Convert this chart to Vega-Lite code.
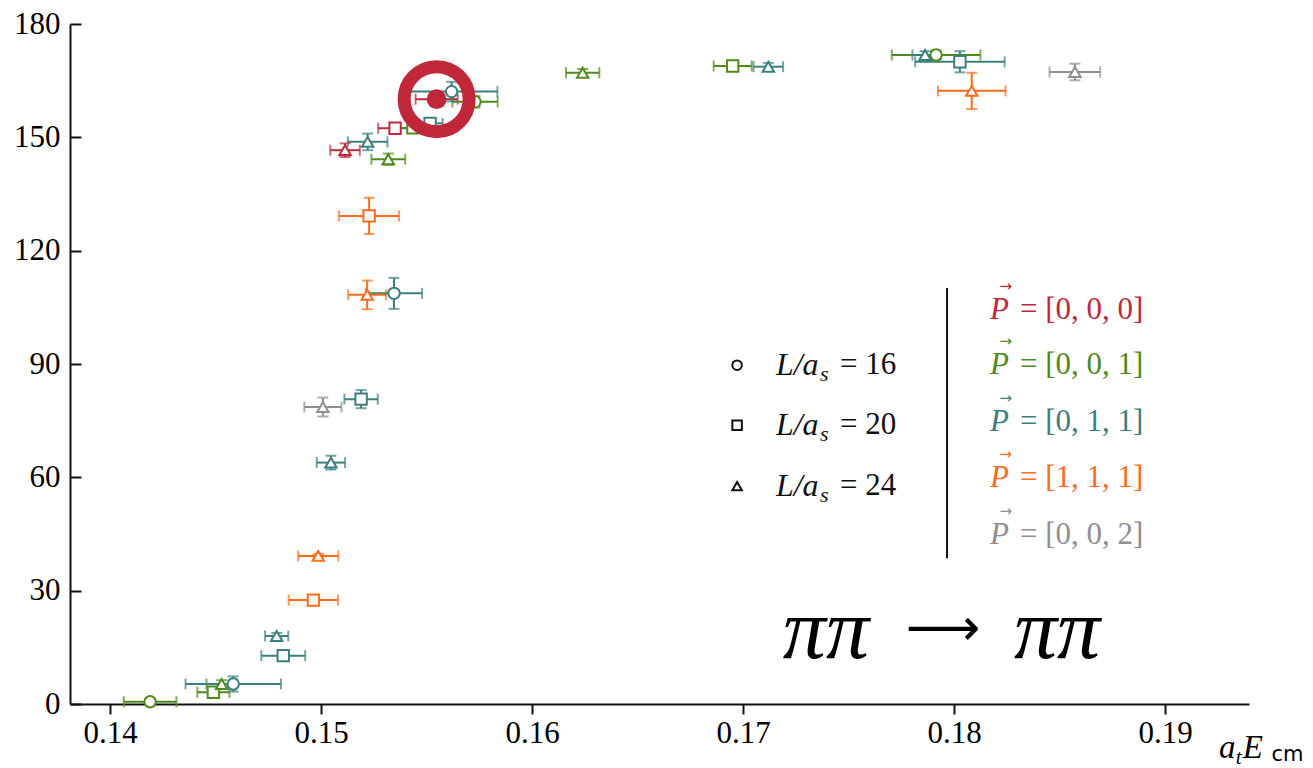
{
  "$schema": "https://vega.github.io/schema/vega-lite/v6.json",
  "width": 1179,
  "height": 680,
  "autosize": {"type": "none"},
  "padding": {"left": 70, "top": 24, "right": 64, "bottom": 64},
  "background": "white",
  "config": {
    "view": {"stroke": null},
    "font": "Liberation Serif",
    "axis": {"labelFont": "Liberation Serif", "labelFontSize": 31, "labelColor": "#000", "grid": false}
  },
  "datasets": {
    "pts": [
      {"P": "[0,0,0]", "L": "24", "x": 0.15114, "xerr": 0.0007, "y": 146.6, "yerr": 1.8},
      {"P": "[0,0,0]", "L": "20", "x": 0.15351, "xerr": 0.0008, "y": 152.4, "yerr": 1.2},
      {"P": "[0,0,0]", "L": "16", "x": 0.15548, "xerr": 0.001, "y": 160.1, "yerr": 1.5},
      {"P": "[0,0,1]", "L": "16", "x": 0.1419, "xerr": 0.00125, "y": 0.6, "yerr": 0.8},
      {"P": "[0,0,1]", "L": "20", "x": 0.1449, "xerr": 0.00076, "y": 3.1, "yerr": 1.0},
      {"P": "[0,0,1]", "L": "24", "x": 0.14529, "xerr": 0.00072, "y": 5.3, "yerr": 1.0},
      {"P": "[0,0,1]", "L": "24", "x": 0.15319, "xerr": 0.0008, "y": 144.2, "yerr": 1.5},
      {"P": "[0,0,1]", "L": "20", "x": 0.15436, "xerr": 0.0008, "y": 152.5, "yerr": 1.2},
      {"P": "[0,0,1]", "L": "16", "x": 0.1573, "xerr": 0.00107, "y": 159.4, "yerr": 1.5},
      {"P": "[0,0,1]", "L": "24", "x": 0.1624, "xerr": 0.00079, "y": 167.1, "yerr": 1.0},
      {"P": "[0,0,1]", "L": "20", "x": 0.16951, "xerr": 0.0009, "y": 168.9, "yerr": 1.0},
      {"P": "[0,0,1]", "L": "16", "x": 0.17915, "xerr": 0.0021, "y": 171.8, "yerr": 1.2},
      {"P": "[0,1,1]", "L": "16", "x": 0.14584, "xerr": 0.00226, "y": 5.3, "yerr": 2.0},
      {"P": "[0,1,1]", "L": "20", "x": 0.14821, "xerr": 0.00104, "y": 12.8, "yerr": 0.8},
      {"P": "[0,1,1]", "L": "24", "x": 0.1479, "xerr": 0.00055, "y": 18.0, "yerr": 0.8},
      {"P": "[0,1,1]", "L": "24", "x": 0.15047, "xerr": 0.00067, "y": 63.9, "yerr": 1.8},
      {"P": "[0,1,1]", "L": "20", "x": 0.1519, "xerr": 0.00079, "y": 80.7, "yerr": 2.4},
      {"P": "[0,1,1]", "L": "16", "x": 0.15346, "xerr": 0.00133, "y": 108.7, "yerr": 4.1},
      {"P": "[0,1,1]", "L": "24", "x": 0.15221, "xerr": 0.00094, "y": 148.8, "yerr": 2.2},
      {"P": "[0,1,1]", "L": "20", "x": 0.15517, "xerr": 0.0006, "y": 153.7, "yerr": 1.2},
      {"P": "[0,1,1]", "L": "16", "x": 0.15619, "xerr": 0.00217, "y": 162.1, "yerr": 2.6},
      {"P": "[0,1,1]", "L": "24", "x": 0.1712, "xerr": 0.0007, "y": 168.7, "yerr": 1.0},
      {"P": "[0,1,1]", "L": "24", "x": 0.17863, "xerr": 0.0006, "y": 171.8, "yerr": 1.0},
      {"P": "[0,1,1]", "L": "20", "x": 0.18028, "xerr": 0.00212, "y": 170.0, "yerr": 2.8},
      {"P": "[1,1,1]", "L": "20", "x": 0.14964, "xerr": 0.00117, "y": 27.5, "yerr": 0.6},
      {"P": "[1,1,1]", "L": "24", "x": 0.14987, "xerr": 0.00095, "y": 39.2, "yerr": 0.5},
      {"P": "[1,1,1]", "L": "24", "x": 0.15219, "xerr": 0.0009, "y": 108.3, "yerr": 3.8},
      {"P": "[1,1,1]", "L": "20", "x": 0.15228, "xerr": 0.00142, "y": 129.2, "yerr": 4.8},
      {"P": "[1,1,1]", "L": "24", "x": 0.18084, "xerr": 0.0016, "y": 162.3, "yerr": 4.8},
      {"P": "[0,0,2]", "L": "24", "x": 0.15009, "xerr": 0.00088, "y": 78.6, "yerr": 2.5},
      {"P": "[0,0,2]", "L": "24", "x": 0.18573, "xerr": 0.0012, "y": 167.3, "yerr": 2.2}
    ],
    "hl": [{"x": 0.15548, "y": 160.1}],
    "legsym": [
      {"L": "16", "x": 0.16972, "y": 89.7},
      {"L": "20", "x": 0.16972, "y": 73.8},
      {"L": "24", "x": 0.16972, "y": 57.7}
    ],
    "legital": [
      {"t": "L/a", "x": 0.17156, "y": 89.7},
      {"t": "L/a", "x": 0.17156, "y": 73.8},
      {"t": "L/a", "x": 0.17156, "y": 57.7}
    ],
    "legsub": [
      {"t": "s", "x": 0.17365, "y": 87.4},
      {"t": "s", "x": 0.17365, "y": 71.5},
      {"t": "s", "x": 0.17365, "y": 55.4}
    ],
    "legnum": [
      {"t": "= 16", "x": 0.17460, "y": 89.7},
      {"t": "= 20", "x": 0.17460, "y": 73.8},
      {"t": "= 24", "x": 0.17460, "y": 57.7}
    ],
    "divider": [{"x": 0.17967, "y": 110.1, "y2": 38.6}],
    "plabP": [
      {"P": "[0,0,0]", "x": 0.18171, "y": 104.3},
      {"P": "[0,0,1]", "x": 0.18171, "y": 89.7},
      {"P": "[0,1,1]", "x": 0.18171, "y": 74.6},
      {"P": "[1,1,1]", "x": 0.18171, "y": 59.8},
      {"P": "[0,0,2]", "x": 0.18171, "y": 44.7}
    ],
    "plabV": [
      {"P": "[0,0,0]", "t": "= [0, 0, 0]", "x": 0.18313, "y": 104.3},
      {"P": "[0,0,1]", "t": "= [0, 0, 1]", "x": 0.18313, "y": 89.7},
      {"P": "[0,1,1]", "t": "= [0, 1, 1]", "x": 0.18313, "y": 74.6},
      {"P": "[1,1,1]", "t": "= [1, 1, 1]", "x": 0.18313, "y": 59.8},
      {"P": "[0,0,2]", "t": "= [0, 0, 2]", "x": 0.18313, "y": 44.7}
    ],
    "parrow": [
      {"P": "[0,0,0]", "x": 0.18245, "y": 110.6},
      {"P": "[0,0,1]", "x": 0.18245, "y": 96.0},
      {"P": "[0,1,1]", "x": 0.18245, "y": 80.9},
      {"P": "[1,1,1]", "x": 0.18245, "y": 66.1},
      {"P": "[0,0,2]", "x": 0.18245, "y": 51.0}
    ],
    "procpi": [
      {"t": "ππ", "x": 0.17393, "y": 19.1},
      {"t": "ππ", "x": 0.18488, "y": 19.1}
    ],
    "procarrow": [{"t": "⟶", "x": 0.17948, "y": 19.9}],
    "xtitle_it": [
      {"t": "a", "x": 0.19256, "y": -11.6},
      {"t": "E", "x": 0.19368, "y": -11.6}
    ],
    "xtitle_sub": [
      {"t": "t", "x": 0.19335, "y": -14.2}
    ],
    "xtitle_cm": [
      {"t": "cm", "x": 0.19505, "y": -13.6}
    ]
  },
  "encoding": {
    "x": {"field": "x", "type": "quantitative",
      "scale": {"domain": [0.138104, 0.193981], "nice": false, "zero": false},
      "axis": {"title": null, "values": [0.14, 0.15, 0.16, 0.17, 0.18, 0.19], "format": ".2f", "grid": false,
        "labelFont": "Liberation Serif", "labelFontSize": 31, "labelColor": "#000", "labelFlush": false,
        "tickSize": 10, "labelPadding": 4, "domainColor": "#111", "tickColor": "#111", "domainWidth": 2, "tickWidth": 2}},
    "y": {"field": "y", "type": "quantitative",
      "scale": {"domain": [0, 180], "nice": false, "zero": true},
      "axis": {"title": null, "values": [0, 30, 60, 90, 120, 150, 180], "grid": false,
        "labelFont": "Liberation Serif", "labelFontSize": 31, "labelColor": "#000", "labelFlush": false,
        "tickSize": -11, "labelPadding": 21, "domainColor": "#111", "tickColor": "#111", "domainWidth": 2, "tickWidth": 2}}
  },
  "layer": [
    {
      "data": {"name": "pts"},
      "mark": {"type": "errorbar", "ticks": {"size": 11}, "thickness": 2},
      "encoding": {
        "xError": {"field": "xerr"},
        "color": {"field": "P", "type": "nominal", "legend": null,
          "scale": {"domain": ["[0,0,0]", "[0,0,1]", "[0,1,1]", "[1,1,1]", "[0,0,2]"],
            "range": ["#c0283a", "#4f8a1c", "#3c7f7e", "#ff6b18", "#8f8f8f"]}}
      }
    },
    {
      "data": {"name": "pts"},
      "mark": {"type": "errorbar", "ticks": {"size": 11}, "thickness": 2},
      "encoding": {
        "yError": {"field": "yerr"},
        "color": {"field": "P", "type": "nominal", "legend": null}
      }
    },
    {
      "data": {"name": "pts"},
      "mark": {"type": "point", "filled": false, "fill": "white", "fillOpacity": 1, "opacity": 1, "strokeWidth": 2, "size": 130},
      "encoding": {
        "color": {"field": "P", "type": "nominal", "legend": null},
        "shape": {"field": "L", "type": "nominal", "legend": null,
          "scale": {"domain": ["16", "20", "24"], "range": ["circle", "square", "triangle-up"]}}
      }
    },
    {
      "data": {"name": "hl"},
      "mark": {"type": "point", "shape": "circle", "filled": false, "stroke": "#c0283a", "strokeWidth": 13, "size": 4225, "opacity": 1}
    },
    {
      "data": {"name": "hl"},
      "mark": {"type": "point", "shape": "circle", "filled": true, "color": "#c0283a", "size": 390, "opacity": 1}
    },
    {
      "data": {"name": "legsym"},
      "mark": {"type": "point", "filled": false, "stroke": "#111", "strokeWidth": 2, "size": 90, "opacity": 1},
      "encoding": {
        "shape": {"field": "L", "type": "nominal", "legend": null}
      }
    },
    {
      "data": {"name": "legital"},
      "mark": {"type": "text", "font": "Liberation Serif", "fontStyle": "italic", "fontSize": 32, "align": "left", "baseline": "middle", "color": "#111"},
      "encoding": {"text": {"field": "t"}}
    },
    {
      "data": {"name": "legsub"},
      "mark": {"type": "text", "font": "Liberation Serif", "fontStyle": "italic", "fontSize": 22, "align": "left", "baseline": "middle", "color": "#111"},
      "encoding": {"text": {"field": "t"}}
    },
    {
      "data": {"name": "legnum"},
      "mark": {"type": "text", "font": "Liberation Serif", "fontSize": 31, "align": "left", "baseline": "middle", "color": "#111"},
      "encoding": {"text": {"field": "t"}}
    },
    {
      "data": {"name": "divider"},
      "mark": {"type": "rule", "color": "#111", "strokeWidth": 2},
      "encoding": {"y2": {"field": "y2"}}
    },
    {
      "data": {"name": "plabP"},
      "mark": {"type": "text", "font": "Liberation Serif", "fontStyle": "italic", "fontSize": 31, "align": "left", "baseline": "middle"},
      "encoding": {
        "text": {"value": "P"},
        "color": {"field": "P", "type": "nominal", "legend": null}
      }
    },
    {
      "data": {"name": "plabV"},
      "mark": {"type": "text", "font": "Liberation Serif", "fontSize": 31, "align": "left", "baseline": "middle"},
      "encoding": {
        "text": {"field": "t"},
        "color": {"field": "P", "type": "nominal", "legend": null}
      }
    },
    {
      "data": {"name": "parrow"},
      "mark": {"type": "text", "font": "DejaVu Sans", "fontSize": 15, "align": "center", "baseline": "middle"},
      "encoding": {
        "text": {"value": "→"},
        "color": {"field": "P", "type": "nominal", "legend": null}
      }
    },
    {
      "data": {"name": "procpi"},
      "mark": {"type": "text", "font": "Liberation Serif", "fontStyle": "italic", "fontSize": 86, "align": "center", "baseline": "middle", "color": "#000"},
      "encoding": {"text": {"field": "t"}}
    },
    {
      "data": {"name": "procarrow"},
      "mark": {"type": "text", "font": "DejaVu Sans", "fontSize": 52, "align": "center", "baseline": "middle", "color": "#000"},
      "encoding": {"text": {"field": "t"}}
    },
    {
      "data": {"name": "xtitle_it"},
      "mark": {"type": "text", "font": "Liberation Serif", "fontStyle": "italic", "fontSize": 33, "align": "left", "baseline": "middle", "color": "#000"},
      "encoding": {"text": {"field": "t"}}
    },
    {
      "data": {"name": "xtitle_sub"},
      "mark": {"type": "text", "font": "Liberation Serif", "fontStyle": "italic", "fontSize": 21, "align": "left", "baseline": "middle", "color": "#000"},
      "encoding": {"text": {"field": "t"}}
    },
    {
      "data": {"name": "xtitle_cm"},
      "mark": {"type": "text", "font": "DejaVu Sans", "fontSize": 21, "align": "left", "baseline": "middle", "color": "#000"},
      "encoding": {"text": {"field": "t"}}
    }
  ]
}
